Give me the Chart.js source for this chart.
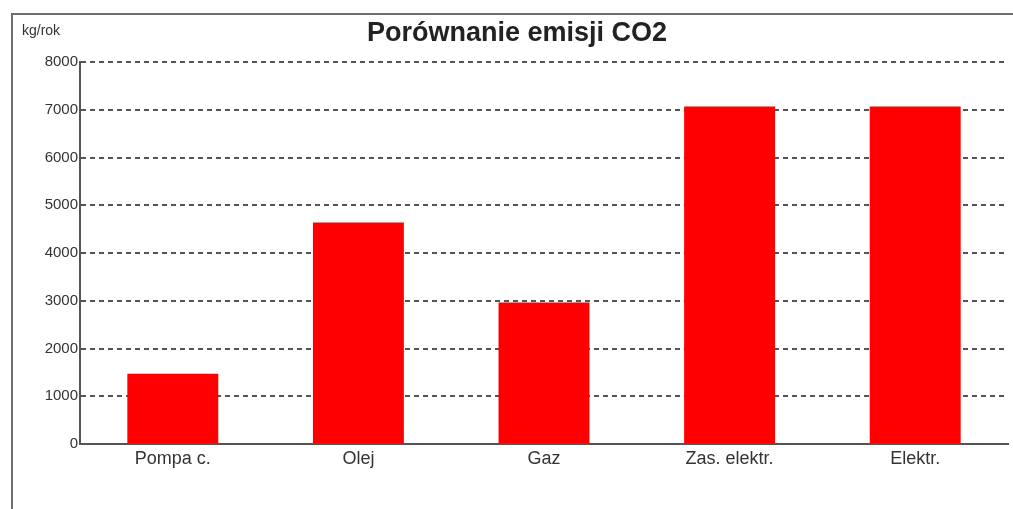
<!DOCTYPE html>
<html>
<head>
<meta charset="utf-8">
<script src="https://cdn.jsdelivr.net/npm/chart.js@4/dist/chart.umd.min.js"></script>
<style>
  html, body { margin: 0; padding: 0; background: #ffffff; }
  #wrap { width: 1013px; height: 509px; position: relative; }
</style>
</head>
<body>
<div id="wrap"><canvas id="c" width="1013" height="509"></canvas></div>
<script>
const categories = ['Pompa c.', 'Olej', 'Gaz', 'Zas. elektr.', 'Elektr.'];
const emissions = [1470, 4640, 2965, 7070, 7070];
const chartTitle = 'Porównanie emisji CO2';
const unitLabel = 'kg/rok';
const yMin = 0;
const yMax = 8000;
const yStep = 1000;

const FONT = "'Liberation Sans', Arial, sans-serif";

const framePlugin = {
  id: 'frame',
  beforeDraw(chart) {
    const ctx = chart.ctx;
    ctx.save();
    ctx.fillStyle = '#ffffff';
    ctx.fillRect(0, 0, chart.width, chart.height);
    ctx.strokeStyle = '#6e6e6e';
    ctx.lineWidth = 2;
    ctx.beginPath();
    ctx.moveTo(12, chart.height);
    ctx.lineTo(12, 14);
    ctx.lineTo(chart.width, 14);
    ctx.stroke();
    ctx.restore();
  },
  afterDraw(chart) {
    const ctx = chart.ctx;
    ctx.save();
    ctx.fillStyle = '#222222';
    ctx.font = 'bold 27px ' + FONT;
    ctx.textAlign = 'center';
    ctx.textBaseline = 'alphabetic';
    ctx.fillText(chartTitle, 517, 41);
    ctx.fillStyle = '#333333';
    ctx.font = '14px ' + FONT;
    ctx.textAlign = 'left';
    ctx.fillText(unitLabel, 22, 35);
    ctx.restore();
  }
};

new Chart(document.getElementById('c'), {
  type: 'bar',
  data: {
    labels: categories,
    datasets: [{
      data: emissions,
      backgroundColor: '#ff0000',
      borderWidth: 0,
      categoryPercentage: 1,
      barPercentage: 0.49
    }]
  },
  options: {
    responsive: false,
    animation: false,
    devicePixelRatio: 1,
    layout: { padding: { left: 0, top: 62, right: 5, bottom: 0 } },
    plugins: {
      legend: { display: false },
      title: { display: false },
      tooltip: { enabled: false }
    },
    scales: {
      x: {
        afterFit(scale) { scale.height = 65; },
        grid: { display: false, drawTicks: false },
        border: { display: true, color: '#555555', width: 2 },
        ticks: {
          padding: 4,
          color: '#333333',
          font: { family: FONT, size: 18 }
        }
      },
      y: {
        min: yMin,
        max: yMax,
        afterFit(scale) { scale.width = 80; },
        grid: {
          drawTicks: false,
          color: '#555555',
          lineWidth: 2
        },
        border: { display: true, color: '#555555', width: 2, dash: [5, 4] },
        ticks: {
          stepSize: yStep,
          padding: 2,
          color: '#333333',
          font: { family: FONT, size: 15 },
          callback: (v) => String(v)
        }
      }
    }
  },
  plugins: [framePlugin]
});
</script>
</body>
</html>
